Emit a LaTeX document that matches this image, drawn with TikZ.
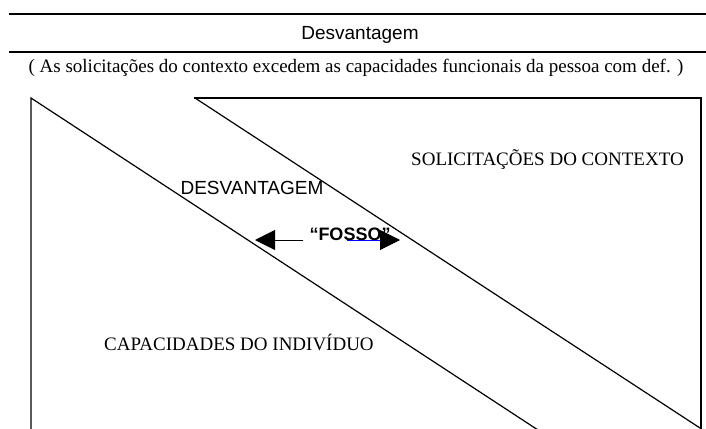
\documentclass[tikz,border=0pt]{standalone}
\usepackage{fontspec}
\setmainfont{Liberation Serif}
\newfontfamily\arialf{Liberation Sans}
\usetikzlibrary{arrows.meta}
\begin{document}
\begin{tikzpicture}[x=1pt,y=-1pt,
  rule/.style={line width=2pt},
  edge/.style={line width=1.2pt, line cap=rect},
  serift/.style={font=\fontsize{19}{22}\selectfont, inner sep=0pt},
  sanst/.style={font=\arialf\fontsize{19}{22}\selectfont, inner sep=0pt},
  boldt/.style={font=\arialf\bfseries\fontsize{18}{22}\selectfont, inner sep=0pt},
  bigarrow/.style={line width=1pt, -{Triangle[length=20pt,width=20pt,color=black]}}]
\useasboundingbox (0,0) rectangle (706,428);
% header rules
\coordinate (r1a) at (9,14);  \coordinate (r1b) at (706,14);
\coordinate (r2a) at (9,52);  \coordinate (r2b) at (706,52);
\draw[rule] (r1a) -- (r1b);
\draw[rule] (r2a) -- (r2b);
\node[sanst] (title) at (360,35) {Desvantagem};
\node[serift] (sub) at (356,68) {( As solicitações do contexto excedem as capacidades funcionais da pessoa com def. )};
% left shape
\coordinate (lb) at (31,430);
\coordinate (lt) at (31,98);
\coordinate (ld) at (538,430);
\draw[edge] (lb) -- (lt) -- (ld);
% right shape
\coordinate (rt) at (195,98);
\coordinate (rr) at (701,98);
\coordinate (rb) at (701,430);
\coordinate (rd) at (700,428);
\draw[edge] (rt) -- (rr) -- (rb);
\draw[edge] (rt) -- (rd);
% labels
\node[serift] (ctx) at (547.5,160) {SOLICITAÇÕES DO CONTEXTO};
\node[sanst] (desv) at (252,188) {DESVANTAGEM};
\node[serift] (cap) at (239,342) {CAPACIDADES DO INDIVÍDUO};
\node[boldt] (fosso) at (350,234) {“FOSSO”};
% arrows
\coordinate (a1s) at (303,240);
\coordinate (a1e) at (255,240);
\coordinate (a2s) at (347,240);
\coordinate (a2e) at (400,240);
\draw[bigarrow] (a1s) -- (a1e);
\draw[bigarrow, blue] (a2s) -- (a2e);
\end{tikzpicture}
\end{document}
